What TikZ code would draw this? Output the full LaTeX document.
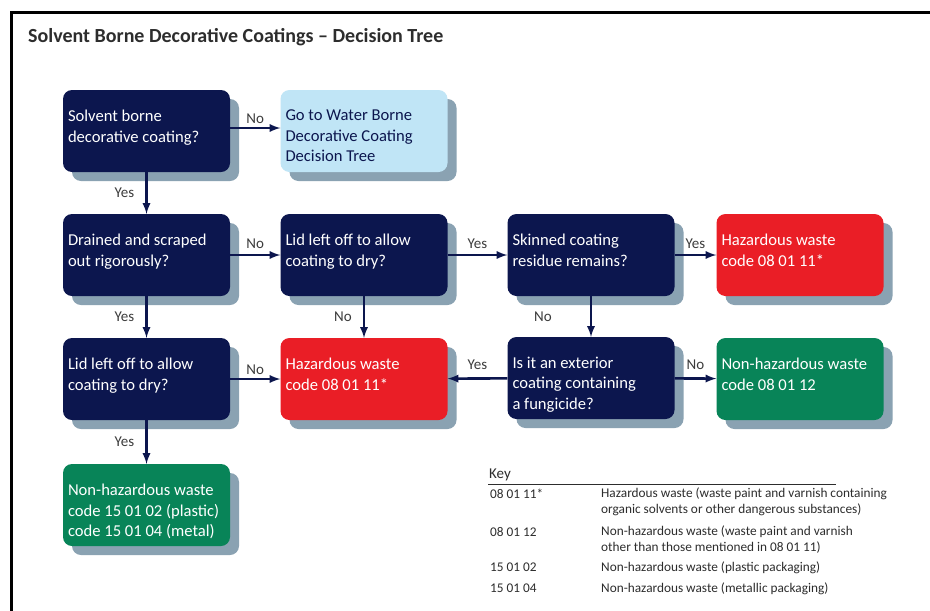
\documentclass[tikz,border=0pt]{standalone}
\usepackage{fontspec}
\setmainfont{Carlito}
\usepackage{tikz}
\usetikzlibrary{arrows,positioning,shadows}

\definecolor{navybox}{RGB}{12,22,78}
\definecolor{redbox}{RGB}{234,30,38}
\definecolor{greenbox}{RGB}{8,132,88}
\definecolor{bluebox}{RGB}{192,229,246}
\definecolor{shadowgrey}{RGB}{138,162,178}
\definecolor{labelgrey}{RGB}{60,60,60}
\definecolor{keygrey}{RGB}{45,45,45}

% text in a box sits at the top, left aligned
\newcommand{\boxtxt}[1]{\parbox[c][82pt][t]{157pt}{\vspace*{20pt}\raggedright #1}}

\begin{document}
\begin{tikzpicture}[x=1pt,y=-1pt,
	decision/.style={fill=navybox, text=white, rounded corners=9pt, minimum width=167pt, minimum height=82pt, inner sep=0pt, font=\fontsize{16.6}{20.5}\selectfont, drop shadow={shadow xshift=9pt, shadow yshift=-9pt, fill=shadowgrey, opacity=1}},
	goto/.style={decision, fill=bluebox, text=navybox},
	hazard/.style={decision, fill=redbox},
	nonhaz/.style={decision, fill=greenbox},
	arr/.style={-latex, line width=2.6pt, draw=navybox},
	lbl/.style={text=labelgrey, font=\fontsize{15}{18}\selectfont, inner sep=2pt},
	keytext/.style={text=keygrey, font=\fontsize{13.3}{16}\selectfont, inner sep=0pt, align=left}]
	\fill[white] (0,0) rectangle (930,611);
	\useasboundingbox (0,0) rectangle (930,611);
	% frame
	\draw[line width=3pt] (11,611) -- (11,12) -- (930,12);
	\node[anchor=base west, inner sep=0pt, text=keygrey, font=\bfseries\fontsize{20}{23}\selectfont] (title) at (28,42) {Solvent Borne Decorative Coatings -- Decision Tree};

	% boxes
	\node[decision] (solvent) at (146.5,131) {\boxtxt{Solvent borne\\decorative coating?}};
	\node[goto] (water) at (364,131) {\boxtxt{Go to Water Borne\\Decorative Coating\\Decision Tree}};
	\node[decision] (drained) at (146.5,255) {\boxtxt{Drained and scraped\\out rigorously?}};
	\node[decision] (lidtop) at (364,255) {\boxtxt{Lid left off to allow\\coating to dry?}};
	\node[decision] (skinned) at (591,255) {\boxtxt{Skinned coating\\residue remains?}};
	\node[hazard] (haztop) at (800,255) {\boxtxt{Hazardous waste\\code 08 01 11*}};
	\node[decision] (lidleft) at (146.5,379) {\boxtxt{Lid left off to allow\\coating to dry?}};
	\node[hazard] (hazmid) at (364,379) {\boxtxt{Hazardous waste\\code 08 01 11*}};
	\node[decision] (exterior) at (591,378) {\boxtxt{Is it an exterior\\coating containing\\a fungicide?}};
	\node[nonhaz] (nonhazmid) at (800,379) {\boxtxt{Non-hazardous waste\\code 08 01 12}};
	\node[nonhaz] (nonhazpack) at (146.5,505) {\boxtxt{Non-hazardous waste\\code 15 01 02 (plastic)\\code 15 01 04 (metal)}};

	% arrows
	\draw[arr] (solvent.east |- 0,128) -- node[lbl, above=1pt] {No} (water.west |- 0,128);
	\draw[arr] (solvent) -- node[lbl, left=9pt] {Yes} (drained);
	\draw[arr] (drained) -- node[lbl, above=3pt] {No} (lidtop);
	\draw[arr] (lidtop) -- node[lbl, above=3pt] {Yes} (skinned);
	\draw[arr] (skinned) -- node[lbl, above=3pt] {Yes} (haztop);
	\draw[arr] (drained) -- node[lbl, left=9pt] {Yes} (lidleft);
	\draw[arr] (lidtop) -- node[lbl, left=9pt] {No} (hazmid);
	\draw[arr] (skinned) -- node[lbl, left=36pt] {No} (exterior);
	\draw[arr] (lidleft) -- node[lbl, above=1pt] {No} (hazmid);
	\draw[arr] (exterior) -- node[lbl, above=6pt] {Yes} (hazmid);
	\draw[arr] (exterior) -- node[lbl, above=6pt] {No} (nonhazmid);
	\draw[arr] (lidleft) -- node[lbl, left=9pt] {Yes} (nonhazpack);

	% key
	\node[keytext, anchor=base west, font=\fontsize{15}{17}\selectfont] (keyhead) at (489,478) {Key};
	\draw[line width=0.8pt, keygrey] (488,484) -- (836,484);
	\node[keytext, anchor=base west] (codeA) at (490,498) {08 01 11*};
	\node[keytext, anchor=north west] (descA) at (601,488) {Hazardous waste (waste paint and varnish containing\\organic solvents or other dangerous substances)};
	\node[keytext, anchor=base west] (codeB) at (490,536) {08 01 12};
	\node[keytext, anchor=north west] (descB) at (601,526) {Non-hazardous waste (waste paint and varnish\\other than those mentioned in 08 01 11)};
	\node[keytext, anchor=base west] (codeC) at (490,571) {15 01 02};
	\node[keytext, anchor=base west] (descC) at (601,571) {Non-hazardous waste (plastic packaging)};
	\node[keytext, anchor=base west] (codeD) at (490,592) {15 01 04};
	\node[keytext, anchor=base west] (descD) at (601,592) {Non-hazardous waste (metallic packaging)};
\end{tikzpicture}
\end{document}
